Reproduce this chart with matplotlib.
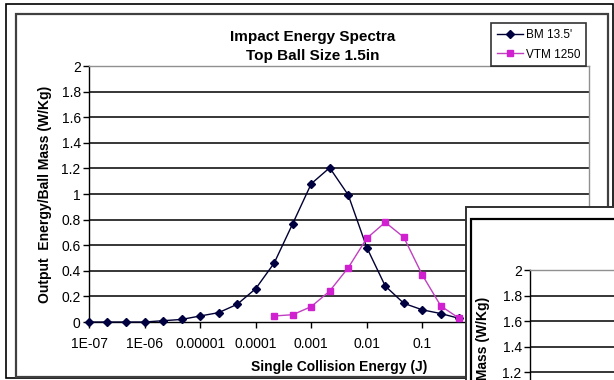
import numpy as np
import matplotlib
matplotlib.use("Agg")
import matplotlib.pyplot as plt
from matplotlib.patches import Rectangle

plt.rcParams['font.family'] = ['Liberation Sans', 'DejaVu Sans']

# ---------------- data ----------------
# single collision energy (J), 1/3 decade steps
energy_bm = [1e-7, 2.15e-7, 4.64e-7, 1e-6, 2.15e-6, 4.64e-6, 1e-5, 2.15e-5,
             4.64e-5, 1e-4, 2.15e-4, 4.64e-4, 1e-3, 2.15e-3, 4.64e-3, 1e-2,
             2.15e-2, 4.64e-2, 1e-1, 2.15e-1, 4.64e-1]
power_bm = [0.0, 0.0, 0.0, 0.0, 0.01, 0.02, 0.047, 0.073, 0.138, 0.26, 0.46,
            0.768, 1.08, 1.205, 0.992, 0.582, 0.281, 0.146, 0.095, 0.066, 0.028]

energy_vtm = [2.15e-4, 4.64e-4, 1e-3, 2.15e-3, 4.64e-3, 1e-2, 2.15e-2, 4.64e-2,
              1e-1, 2.15e-1, 4.64e-1]
power_vtm = [0.047, 0.057, 0.12, 0.242, 0.424, 0.654, 0.779, 0.662, 0.367,
             0.125, 0.028]

series_names = ["BM 13.5'", "VTM 1250"]
# labels past 0.1 sit under the second chart window
x_ticks = [1e-7, 1e-6, 1e-5, 1e-4, 1e-3, 1e-2, 1e-1]
x_tick_labels = ["1E-07", "1E-06", "0.00001", "0.0001", "0.001", "0.01", "0.1"]
y_ticks = [0, 0.2, 0.4, 0.6, 0.8, 1, 1.2, 1.4, 1.6, 1.8, 2]
y_tick_labels = ["0", "0.2", "0.4", "0.6", "0.8", "1", "1.2", "1.4", "1.6", "1.8", "2"]

W, H = 614, 380


def fx(px):
    return px / W


def fy(py):
    return 1 - py / H


fig = plt.figure(figsize=(6.14, 3.8), dpi=100)
fig.patch.set_facecolor('white')

# frames of the screenshot / chart area
fig.patches.append(Rectangle((fx(6), fy(378)), fx(607), 374 / H,
                             transform=fig.transFigure, fill=False,
                             edgecolor='black', lw=1.2, zorder=0.5))
fig.patches.append(Rectangle((fx(16), fy(377)), fx(592), 363 / H,
                             transform=fig.transFigure, fill=False,
                             edgecolor='#404040', lw=1.6, zorder=0.5))


def style_axes(ax):
    ax.set_ylim(0, 2)
    ax.set_yticks(y_ticks)
    ax.set_yticklabels(y_tick_labels)
    for v in y_ticks[1:-1]:
        ax.axhline(v, color='black', lw=1.1, zorder=1)
    ax.spines['left'].set_color('black')
    ax.spines['bottom'].set_color('black')
    ax.spines['top'].set_color('#909090')
    ax.spines['right'].set_color('#909090')
    for s in ax.spines.values():
        s.set_linewidth(1.0)
    ax.tick_params(axis='y', direction='out', length=4, width=1, pad=2,
                   labelsize=10, color='black')
    ax.set_ylabel('Output  Energy/Ball Mass (W/Kg)', fontsize=10,
                  fontweight='bold', labelpad=7)


# ---------------- main chart ----------------
ax = fig.add_axes([fx(89), fy(322), fx(500), 256 / H])
style_axes(ax)
ax.set_xscale('log')
ax.set_xlim(1e-7, 100)
ax.set_xticks(x_ticks)
ax.set_xticklabels(x_tick_labels)
ax.xaxis.set_minor_locator(matplotlib.ticker.NullLocator())
ax.tick_params(axis='x', direction='out', length=4, width=1, pad=7,
               labelsize=10)

ax.plot(energy_bm, power_bm, color='#000033', lw=1.0, marker='D', ms=3.6,
        mfc='#000040', mec='#000040', label=series_names[0], zorder=3,
        clip_on=False)
ax.plot(energy_vtm, power_vtm, color='#C040C0', lw=1.0, marker='s', ms=4.6,
        mfc='#D020D0', mec='#D020D0', label=series_names[1], zorder=3,
        clip_on=False)

ax.set_xlabel('Single Collision Energy (J)', fontsize=10, fontweight='bold',
              labelpad=6)

fig.text(fx(313), fy(46.5), 'Impact Energy Spectra\nTop Ball Size 1.5in',
         ha='center', va='center', fontsize=11, fontweight='bold',
         linespacing=1.4)

leg = ax.legend(loc='upper right', bbox_to_anchor=(fx(586), fy(23)),
                bbox_transform=fig.transFigure, fontsize=8.5, frameon=True,
                fancybox=False, borderpad=0.5, handlelength=2.2,
                handletextpad=0.2, labelspacing=0.65, borderaxespad=0)
leg.get_frame().set_edgecolor('black')
leg.get_frame().set_linewidth(1.2)

# ---------------- second chart window lying on top ----------------
fig.patches.append(Rectangle((fx(466), fy(400)), fx(200), 193 / H,
                             transform=fig.transFigure, facecolor='white',
                             edgecolor='#303030', lw=1.4, zorder=5))
fig.patches.append(Rectangle((fx(471), fy(400)), fx(200), 181 / H,
                             transform=fig.transFigure, facecolor='white',
                             edgecolor='black', lw=1.6, zorder=5.5))

ax2 = fig.add_axes([fx(530), fy(526), fx(200), 256 / H])
ax2.set_zorder(6)
style_axes(ax2)
ax2.set_xticks([])
ax2.spines['right'].set_visible(False)
ax2.yaxis.set_label_coords(-0.2, 0.47)

fig.savefig('out.png', dpi=100)
